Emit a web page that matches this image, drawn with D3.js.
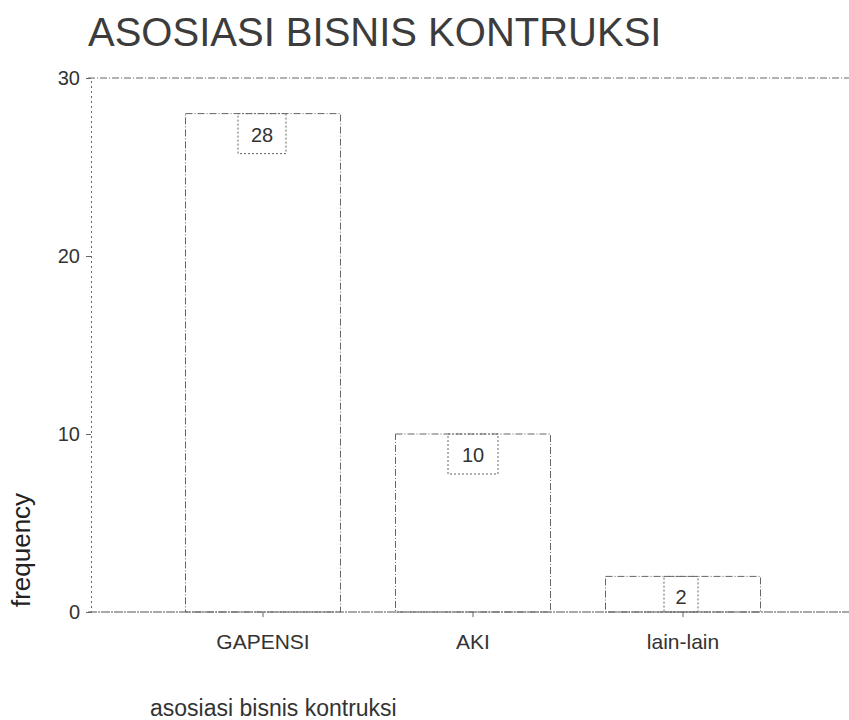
<!DOCTYPE html>
<html>
<head>
<meta charset="utf-8">
<script src="https://cdn.jsdelivr.net/npm/d3@7"></script>
<style>
  body { margin: 0; background: #fff; }
  text { font-family: "Liberation Sans", Arial, sans-serif; fill: #333; }
</style>
</head>
<body>
<svg id="chart" width="849" height="720"></svg>
<script>
// data
var categories = ["GAPENSI", "AKI", "lain-lain"];
var counts = [28, 10, 2];
var yTicks = [0, 10, 20, 30];

var width = 849, height = 720;
var axisX = 91, plotTop = 78, plotBase = 612;

var svg = d3.select("#chart");

var x = d3.scaleBand()
    .domain(categories)
    .range([158, 788])
    .paddingInner(0.262)
    .paddingOuter(0.131);

var y = d3.scaleLinear()
    .domain([0, 30])
    .range([plotBase, plotTop]);

var lineColor = "#666";
var dash = "7,2,1,2";

// title
svg.append("text")
    .attr("x", 88)
    .attr("y", 46)
    .attr("font-size", 40)
    .style("fill", "#3c3c3c")
    .text("ASOSIASI BISNIS KONTRUKSI");

// frame lines: top and baseline
svg.append("line")
    .attr("x1", axisX - 3).attr("x2", width)
    .attr("y1", y(30)).attr("y2", y(30))
    .attr("stroke", lineColor).attr("stroke-width", 1)
    .attr("stroke-dasharray", dash);

svg.append("line")
    .attr("x1", axisX - 3).attr("x2", width)
    .attr("y1", y(0)).attr("y2", y(0))
    .attr("stroke", "#555").attr("stroke-width", 1.2)
    .attr("stroke-dasharray", "9,1,2,1");

// y axis
var yAxis = d3.axisLeft(y)
    .tickValues(yTicks)
    .tickSize(5)
    .tickPadding(6);

var gy = svg.append("g")
    .attr("transform", "translate(" + axisX + ",0)")
    .call(yAxis);
gy.select(".domain")
    .attr("stroke", lineColor)
    .attr("stroke-dasharray", "2,3");
gy.selectAll(".tick line").attr("stroke", lineColor);
gy.selectAll(".tick text")
    .attr("font-size", 20)
    .style("font-family", "Liberation Sans, Arial, sans-serif")
    .style("fill", "#333");

// bars
svg.selectAll(".bar")
    .data(counts)
    .enter().append("rect")
    .attr("class", "bar")
    .attr("x", function(d, i) { return x(categories[i]); })
    .attr("y", function(d) { return y(d); })
    .attr("width", x.bandwidth())
    .attr("height", function(d) { return y(0) - y(d); })
    .attr("fill", "none")
    .attr("stroke", lineColor)
    .attr("stroke-width", 1)
    .attr("stroke-dasharray", dash);

// value boxes
var boxW = [48, 50, 34];
var boxOff = [-1, 0, -2];
var vg = svg.selectAll(".val")
    .data(counts)
    .enter().append("g")
    .attr("class", "val");

vg.append("rect")
    .attr("x", function(d, i) { return x(categories[i]) + x.bandwidth() / 2 + boxOff[i] - boxW[i] / 2; })
    .attr("y", function(d) { return y(d); })
    .attr("width", function(d, i) { return boxW[i]; })
    .attr("height", function(d) { return Math.min(40, y(0) - y(d)); })
    .attr("fill", "none")
    .attr("stroke", lineColor)
    .attr("stroke-dasharray", "2,2");

vg.append("text")
    .attr("x", function(d, i) { return x(categories[i]) + x.bandwidth() / 2 + boxOff[i]; })
    .attr("y", function(d) { return y(d) + 28; })
    .attr("text-anchor", "middle")
    .attr("font-size", 20)
    .text(function(d) { return d; });

// x axis ticks and labels
var xAxis = d3.axisBottom(x)
    .tickSize(5)
    .tickPadding(17);

var gx = svg.append("g")
    .attr("transform", "translate(0," + plotBase + ")")
    .call(xAxis);
gx.select(".domain").remove();
gx.selectAll(".tick line").attr("stroke", lineColor);
gx.selectAll(".tick text")
    .attr("font-size", 21)
    .style("font-family", "Liberation Sans, Arial, sans-serif")
    .style("fill", "#333");

// axis titles
svg.append("text")
    .attr("transform", "translate(30,550) rotate(-90)")
    .attr("text-anchor", "middle")
    .attr("font-size", 26)
    .style("fill", "#222")
    .text("frequency");

svg.append("text")
    .attr("x", 150)
    .attr("y", 716)
    .attr("font-size", 23)
    .style("fill", "#333")
    .text("asosiasi bisnis kontruksi");
</script>
</body>
</html>
